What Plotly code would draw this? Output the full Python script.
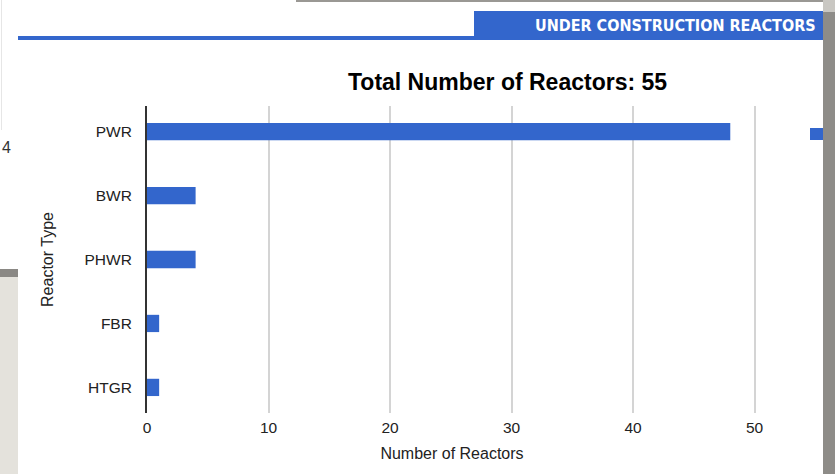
import plotly.graph_objects as go

# Reactors under construction, by reactor type
reactor_types = ["PWR", "BWR", "PHWR", "FBR", "HTGR"]
reactor_counts = [48, 4, 4, 1, 1]
x_ticks = [0, 10, 20, 30, 40, 50]
chart_title = "Total Number of Reactors: 55"
header_text = "UNDER CONSTRUCTION REACTORS"

BLUE = "#3366cc"
FONT = "Liberation Sans, Arial, sans-serif"

# Plot area in page pixels
PL, PR, PT, PB = 147, 757, 106, 413
W, H = 835, 474

fig = go.Figure(
    go.Bar(
        x=reactor_counts,
        y=reactor_types,
        orientation="h",
        marker=dict(color=BLUE, line=dict(width=0)),
        hoverinfo="x+y",
    )
)

fig.update_layout(
    width=W,
    height=H,
    margin=dict(l=PL, r=W - PR, t=PT, b=H - PB),
    paper_bgcolor="white",
    plot_bgcolor="white",
    bargap=0.73,
    showlegend=False,
    font=dict(family=FONT, size=15, color="#222222"),
    xaxis=dict(
        range=[0, 50.2],
        tickvals=x_ticks,
        ticktext=[str(v) for v in x_ticks],
        showgrid=True,
        gridcolor="#d4d4d4",
        gridwidth=2,
        zeroline=False,
        showline=False,
        ticks="",
        ticklabelstandoff=3,
        tickfont=dict(size=15.5, color="#222222"),
        title=dict(text="Number of Reactors", font=dict(size=16, color="#222222"), standoff=13),
    ),
    yaxis=dict(
        categoryorder="array",
        categoryarray=reactor_types,
        range=[4.4, -0.4],
        showgrid=False,
        zeroline=False,
        showline=True,
        linecolor="#333333",
        linewidth=2,
        ticks="",
        ticklabelstandoff=10,
        tickfont=dict(size=15.5, color="#222222"),
        title=dict(text="Reactor Type", font=dict(size=16, color="#222222"), standoff=27),
    ),
)

def px_x(x):
    return (x - PL) / (PR - PL)

def px_y(y):
    return (PB - y) / (PB - PT)

def px_rect(x0, y0, x1, y1, color):
    """Rectangle given in page pixels, placed in paper coordinates."""
    return dict(type="rect", xref="paper", yref="paper",
                x0=px_x(x0), x1=px_x(x1), y0=px_y(y1), y1=px_y(y0),
                fillcolor=color, line=dict(width=0), layer="above")

shapes = [
    # Header tab and rule
    px_rect(474, 11, 823, 40, BLUE),
    px_rect(18, 36, 474, 40, BLUE),
    # Legend swatch at the right edge
    px_rect(810, 128, 823, 140, BLUE),
    # Frame edges around the panel
    px_rect(823, 12, 836, 475, "#8e8c88"),
    px_rect(823, 0, 836, 12, "#c9c7c2"),
    px_rect(296, 0, 823, 2, "#9a9894"),
    px_rect(0, 269, 18, 277, "#8a8884"),
    px_rect(0, 277, 18, 475, "#e4e2dc"),
    px_rect(1, 0, 2, 130, "#e6e6e6"),
]
fig.update_layout(shapes=shapes)

annotations = [
    dict(text=f"<b>{chart_title}</b>", xref="paper", yref="paper",
         x=px_x(507), y=px_y(82), showarrow=False,
         xanchor="center", yanchor="middle",
         font=dict(family=FONT, size=23, color="#000000")),
    dict(text=f"<b>{header_text}</b>", xref="paper", yref="paper",
         x=px_x(818), y=px_y(25), showarrow=False,
         xanchor="right", yanchor="middle",
         font=dict(family="Liberation Sans Narrow, DejaVu Sans Condensed, Arial Narrow, sans-serif",
                   size=16, color="white")),
    dict(text="4", xref="paper", yref="paper",
         x=px_x(0), y=px_y(147), showarrow=False,
         xanchor="left", yanchor="middle",
         font=dict(family=FONT, size=16, color="#333333")),
]
fig.update_layout(annotations=annotations)

fig.write_html("out.html")
